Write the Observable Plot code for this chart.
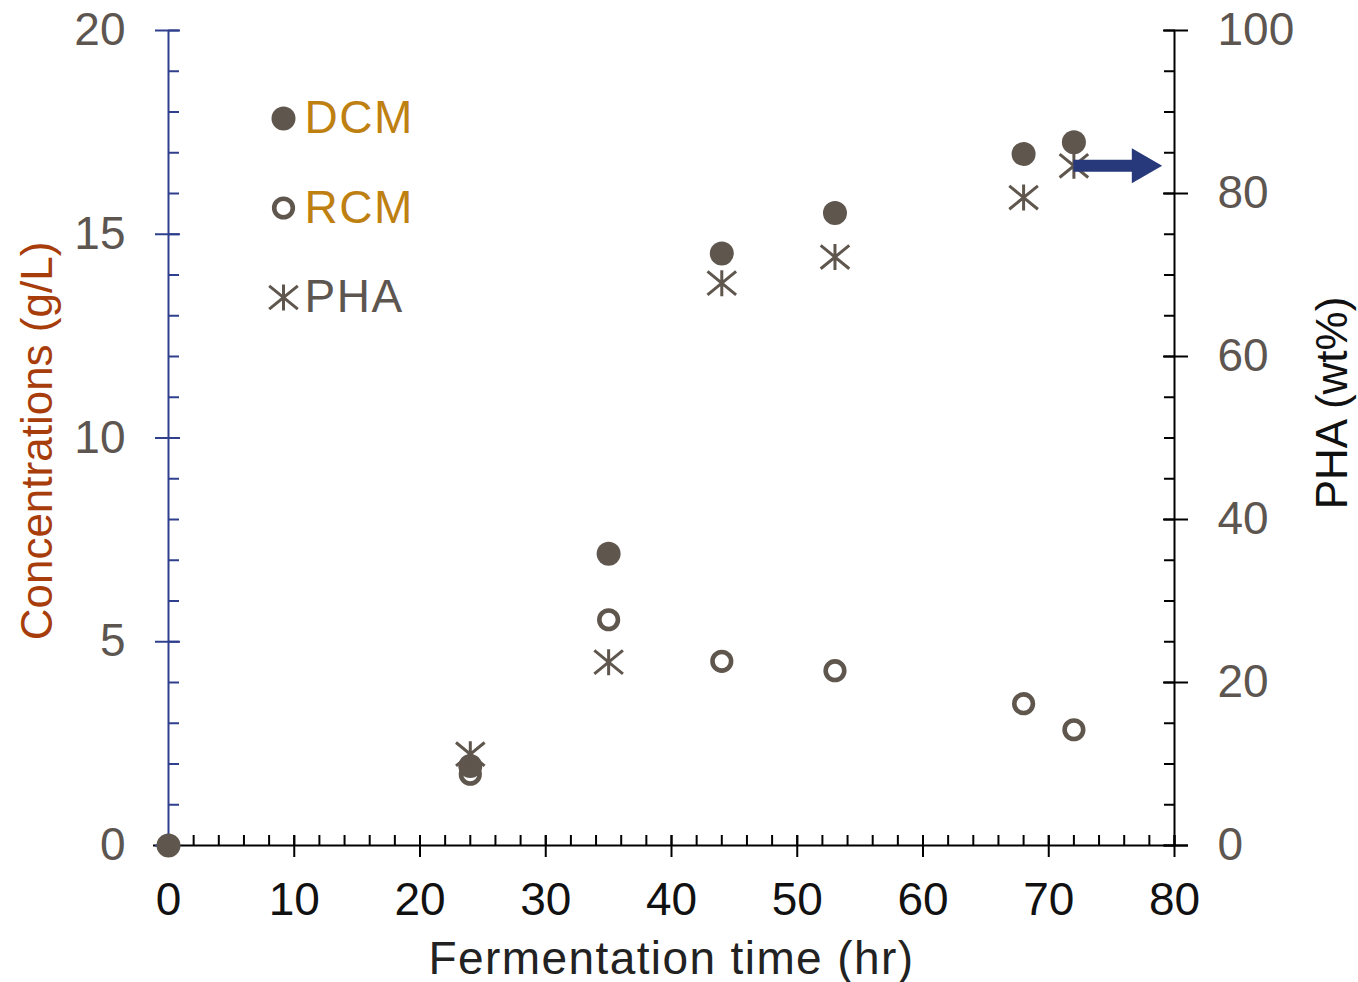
<!DOCTYPE html>
<html>
<head>
<meta charset="utf-8">
<script src="https://cdn.jsdelivr.net/npm/d3@7"></script>
<script src="https://cdn.jsdelivr.net/npm/@observablehq/plot@0.6"></script>
<style>
  html, body { margin: 0; padding: 0; background: #ffffff; }
  #chart svg { display: block; }
</style>
</head>
<body>
<div id="chart"></div>
<script>
// ---- Data ----
const timeDCM = [0, 24, 35, 44, 53, 68, 72];
const dcm     = [0, 1.95, 7.16, 14.53, 15.52, 16.97, 17.26];      // g/L
const timeRCM = [24, 35, 44, 53, 68, 72];
const rcm     = [1.75, 5.54, 4.52, 4.29, 3.48, 2.84];              // g/L
const timePHA = [24, 35, 44, 53, 68, 72];
const pha     = [11.2, 22.5, 69.0, 72.2, 79.5, 83.4];              // wt% (right axis)

const xTicks      = [0, 10, 20, 30, 40, 50, 60, 70, 80];
const xMinorTicks = [0, 2, 4, 6, 8, 10, 12, 14, 16, 18, 20, 22, 24, 26, 28, 30, 32, 34, 36, 38, 40,
                     42, 44, 46, 48, 50, 52, 54, 56, 58, 60, 62, 64, 66, 68, 70, 72, 74, 76, 78, 80];
const yTicks      = [0, 5, 10, 15, 20];
const yMinorTicks = [0, 1, 2, 3, 4, 5, 6, 7, 8, 9, 10, 11, 12, 13, 14, 15, 16, 17, 18, 19, 20];
const rightTicks      = [0, 20, 40, 60, 80, 100];
const rightMinorTicks = [0, 5, 10, 15, 20, 25, 30, 35, 40, 45, 50, 55, 60, 65, 70, 75, 80, 85, 90, 95, 100];
const legendLabels = ["DCM", "RCM", "PHA"];
const arrowData = [{from: 72, to: 79, pha: 83.4}];

// right axis (wt%) : left axis (g/L) ratio
const K = 100 / 20;

// ---- Tables built from the arrays ----
const dcmRows = timeDCM.map((t, i) => ({t, v: dcm[i]}));
const rcmRows = timeRCM.map((t, i) => ({t, v: rcm[i]}));
const phaRows = timePHA.map((t, i) => ({t, v: pha[i]}));

// ---- Styles ----
const FONT = "'Liberation Sans', Arial, Helvetica, sans-serif";
const MARK = "#5f564e";
const NAVY = "#2f3f8c";
const ARROW = "#27397b";
const GRAY = "#5d5650";
const RUST = "#a83d0c";
const GOLD = "#bf8012";

// custom asterisk: vertical bar + wide X
const asterisk = {
  draw(context, size) {
    const r = Math.sqrt(size / Math.PI);
    context.moveTo(0, -r); context.lineTo(0, r);
    context.moveTo(-1.1 * r, -0.9 * r); context.lineTo(1.1 * r, 0.9 * r);
    context.moveTo(1.1 * r, -0.9 * r); context.lineTo(-1.1 * r, 0.9 * r);
  }
};

const series = {
  DCM: {r: 12, symbol: "circle", fill: MARK, stroke: "none", strokeWidth: 0, text: GOLD},
  RCM: {r: 9.3, symbol: "circle", fill: "none", stroke: MARK, strokeWidth: 4.6, text: GOLD},
  PHA: {r: 13, symbol: asterisk, fill: "none", stroke: MARK, strokeWidth: 3, text: GRAY}
};

const legendMarks = legendLabels.flatMap((label, i) => {
  const s = series[label];
  return [
    Plot.dot([label], {frameAnchor: "top-left", dx: 115, dy: 88 + i * 89.5,
      r: s.r, symbol: s.symbol, fill: s.fill, stroke: s.stroke, strokeWidth: s.strokeWidth}),
    Plot.text([label], {frameAnchor: "top-left", dx: 136, dy: 88 + i * 89.5, text: d => d,
      textAnchor: "start", lineAnchor: "middle", fill: s.text, fontSize: 46, fontFamily: FONT})
  ];
});

const axisText = {fontSize: 46, fontFamily: FONT};

const chart = Plot.plot({
  width: 1358,
  height: 982,
  marginTop: 30,
  marginRight: 184,
  marginBottom: 137,
  marginLeft: 168,
  style: {background: "#ffffff", overflow: "visible", fontFamily: FONT},
  x: {domain: [0, 80]},
  y: {domain: [0, 20]},
  marks: [
    // axis lines
    Plot.ruleX([0], {stroke: NAVY, strokeWidth: 2}),
    Plot.ruleX([80], {stroke: "#000", strokeWidth: 2}),
    Plot.ruleY([0], {stroke: "#000", strokeWidth: 2, insetLeft: -15, insetRight: -14}),

    // left axis ticks & labels
    Plot.axisY({ticks: yMinorTicks, tickSize: 11, dx: 11, stroke: NAVY, strokeWidth: 2, fill: "none", label: null}),
    Plot.axisY({ticks: yTicks, tickSize: 25, dx: 12, stroke: NAVY, strokeWidth: 2, fill: "none", label: null}),
    Plot.axisY({ticks: yTicks, tickSize: 0, tickPadding: 43, fill: GRAY, label: null, ...axisText}),

    // right axis ticks & labels (PHA wt%)
    Plot.axisY({anchor: "right", ticks: rightMinorTicks.map(v => v / K), tickSize: 11, dx: -11,
      stroke: "#000", strokeWidth: 2, fill: "none", label: null}),
    Plot.axisY({anchor: "right", ticks: rightTicks.map(v => v / K), tickSize: 25, dx: -12,
      stroke: "#000", strokeWidth: 2, fill: "none", label: null}),
    Plot.axisY({anchor: "right", ticks: rightTicks.map(v => v / K), tickFormat: d => String(Math.round(d * K)),
      tickSize: 0, tickPadding: 43, fill: GRAY, label: null, ...axisText}),

    // bottom axis ticks & labels
    Plot.axisX({ticks: xMinorTicks, tickSize: 10, dy: -10, stroke: "#000", strokeWidth: 2, fill: "none", label: null}),
    Plot.axisX({ticks: xTicks, tickSize: 22, dy: -10, stroke: "#000", strokeWidth: 2, fill: "none", label: null}),
    Plot.axisX({ticks: xTicks, tickSize: 0, tickPadding: 37, fill: "#111", label: null, ...axisText}),

    // axis titles
    Plot.text([{t: "Concentrations (g/L)"}], {text: "t", frameAnchor: "left", dx: -131, dy: 3, rotate: -90,
      textAnchor: "middle", lineAnchor: "middle", fill: RUST, fontSize: 44, fontFamily: FONT}),
    Plot.text([{t: "PHA (wt%)"}], {text: "t", frameAnchor: "right", dx: 158, dy: -35, rotate: -90,
      textAnchor: "middle", lineAnchor: "middle", fill: "#111", fontSize: 44, fontFamily: FONT}),
    Plot.text([{t: "Fermentation time (hr)"}], {text: "t", frameAnchor: "bottom", dy: 114,
      textAnchor: "middle", lineAnchor: "middle",
      fill: "#222", fontSize: 46, fontFamily: FONT}),

    // data
    Plot.dot(dcmRows, {x: "t", y: "v", r: series.DCM.r, fill: MARK, stroke: "none"}),
    Plot.dot(rcmRows, {x: "t", y: "v", r: series.RCM.r, fill: "none", stroke: MARK, strokeWidth: series.RCM.strokeWidth}),
    Plot.dot(phaRows, {x: "t", y: d => d.v / K, r: series.PHA.r, symbol: asterisk, fill: "none",
      stroke: MARK, strokeWidth: series.PHA.strokeWidth}),

    // arrow pointing to the right axis
    Plot.ruleY(arrowData, {x1: "from", x2: "to", y: d => d.pha / K, stroke: ARROW, strokeWidth: 12, insetRight: 26}),
    Plot.dot(arrowData, {x: "to", y: d => d.pha / K, symbol: "triangle", rotate: 90, r: 13, dx: -20,
      fill: ARROW, stroke: "none"}),

    // legend
    ...legendMarks
  ]
});

// widen the horizontal titles slightly (reference text is a bit wider)
d3.select(chart).selectAll("text")
  .filter(function () { return this.textContent === "Fermentation time (hr)"; })
  .style("letter-spacing", "1.4px");
d3.select(chart).selectAll("text")
  .filter(function () { return legendLabels.includes(this.textContent); })
  .style("letter-spacing", "1.5px");

document.getElementById("chart").appendChild(chart);
</script>
</body>
</html>
